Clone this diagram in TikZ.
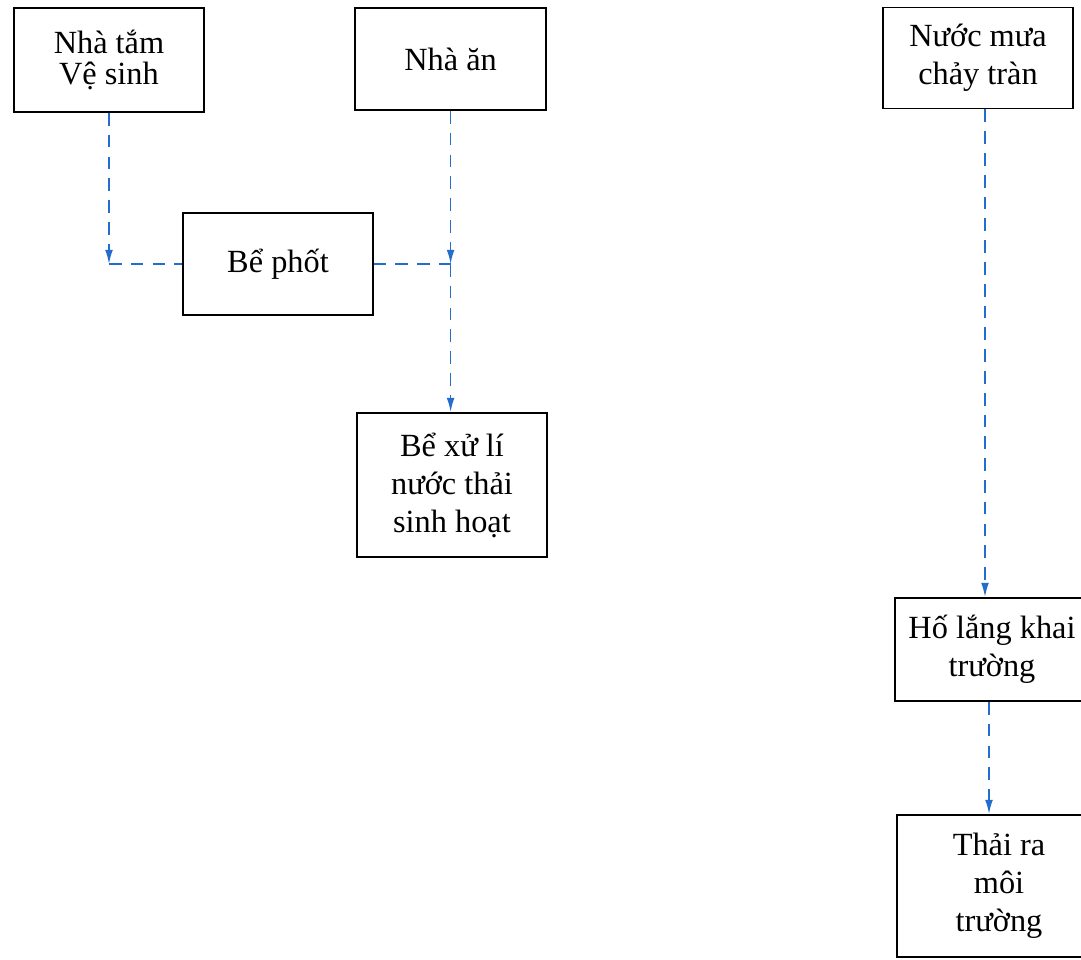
\documentclass[tikz,border=0pt]{standalone}
\usepackage{fontspec}
\setmainfont{Liberation Serif}
\usetikzlibrary{arrows.meta,positioning}
\definecolor{flowblue}{RGB}{35,110,205}
\tikzset{
	box/.style={draw,line width=1.4pt,align=center,inner sep=0pt,font=\fontsize{23}{27}\selectfont},
	flow/.style={flowblue,line width=1.1pt,dash pattern=on 9pt off 6.5pt},
	tip/.style={-{Latex[length=10pt,width=5.5pt]}}
}

\begin{document}
\begin{tikzpicture}[x=0.025cm,y=-0.025cm]
		
		\useasboundingbox (0,0) rectangle (1081,960);
		\fill[white] (0,0) rectangle (1081,960);
		
		% left part: domestic water
		\node[box,minimum width=4.75cm,minimum height=2.6cm,font=\fontsize{23}{21.5}\selectfont] (tam) at (109,60) {Nhà tắm\\Vệ sinh};
		\node[box,minimum width=4.775cm,minimum height=2.55cm] (an) at (450.6,59) {Nhà ăn};
		\node[box,minimum width=4.725cm,minimum height=2.55cm] (phot) at (278,264) {Bể phốt};
		\node[box,minimum width=4.75cm,minimum height=3.6cm] (xuli) at (452,485) {Bể xử lí\\nước thải\\sinh hoạt};
		
		% right part: rain water
		\node[box,minimum width=4.75cm,minimum height=2.525cm] (mua) at (978,58) {Nước mưa\\chảy tràn};
		\node[box,minimum width=4.85cm,minimum height=2.575cm] (holang) at (992,649.5) {Hố lắng khai\\trường};
		\node[box,minimum width=5.1cm,minimum height=3.55cm] (thai) at (999,886) {Thải ra\\môi\\trường};
		
		\coordinate (c1) at (tam.south |- phot.west);
		\coordinate (c2) at (an.south |- phot.east);
		\coordinate (m1) at ([xshift=0.175cm]mua.south);
		\coordinate (h1) at ([xshift=-0.075cm]holang.south);
		
		\draw[flow,tip] (tam.south) -- (c1);
		\draw[flow] (c1) -- (phot.west);
		\draw[flow,tip] (an.south) -- (c2);
		\draw[flow] (phot.east) -- (c2);
		\draw[flow,tip] (c2) -- (c2 |- xuli.north);
		
		\draw[flow,tip] (m1) -- (m1 |- holang.north);
		\draw[flow,tip] (h1) -- (h1 |- thai.north);
		
	\end{tikzpicture}
\end{document}
